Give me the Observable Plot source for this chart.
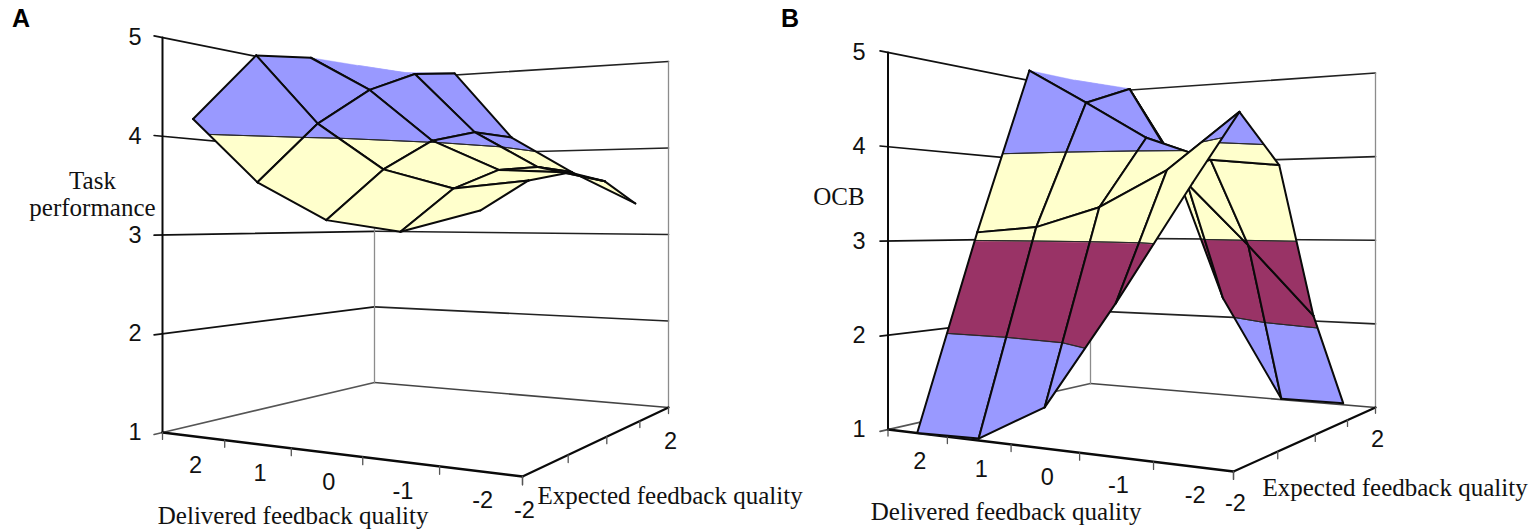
<!DOCTYPE html>
<html>
<head>
<meta charset="utf-8">
<script src="https://cdn.jsdelivr.net/npm/d3@7"></script>
<script src="https://cdn.jsdelivr.net/npm/@observablehq/plot@0.6"></script>
<style>html,body{margin:0;padding:0;background:#fff}</style>
</head>
<body>
<div id="chart"></div>
<script>
// ---- values ----
const deliveredLevels = [2, 1, 0, -1, -2];
const expectedLevels = [-2, -1, 0, 1, 2];
const zTicks = [1, 2, 3, 4, 5];
const deliveredTitle = "Delivered feedback quality";
const expectedTitle = "Expected feedback quality";
// rows: delivered 2..-2, columns: expected -2..2
const taskPerformance = [
  [4.16, 4.92, 5.02, 5.05, 5.08],
  [3.52, 4.16, 4.61, 4.90, 5.02],
  [3.16, 3.67, 4.02, 4.18, 4.18],
  [3.06, 3.47, 3.69, 3.76, 3.74],
  [3.25, 3.54, 3.65, 3.59, 3.36]
];
const ocb = [
  [1.00, 3.09, 5.03, 5.03, 5.05],
  [1.02, 3.15, 4.60, 4.87, 4.17],
  [1.40, 3.36, 4.16, 3.68, 2.24],
  [2.44, 3.73, 3.89, 2.94, 1.01],
  [3.55, 4.28, 3.81, 2.15, 1.02]
];
const bandLimits = [1, 2, 3, 4, 5];
const bandColors = ["#9999ff", "#993366", "#ffffcc", "#9999ff"];

// ---- perspective camera of each panel (floor corners and z=5 height at left corner) ----
const cameraA = {L: [162, 432], B: [374, 382], R: [668, 407], F: [522, 476], top: 37};
const cameraB = {L: [887.5, 429], B: [1090, 383], R: [1375, 407], F: [1233, 471], top: 52};

function makeProjection(c) {
  const dx1 = c.B[0] - c.R[0], dx2 = c.F[0] - c.R[0], sx = c.L[0] - c.B[0] + c.R[0] - c.F[0];
  const dy1 = c.B[1] - c.R[1], dy2 = c.F[1] - c.R[1], sy = c.L[1] - c.B[1] + c.R[1] - c.F[1];
  const den = dx1 * dy2 - dx2 * dy1;
  const g = (sx * dy2 - dx2 * sy) / den, h = (dx1 * sy - sx * dy1) / den;
  const a = c.B[0] - c.L[0] + g * c.B[0], b = c.F[0] - c.L[0] + h * c.F[0];
  const d = c.B[1] - c.L[1] + g * c.B[1], e = c.F[1] - c.L[1] + h * c.F[1];
  const k = (c.L[1] - c.top) / 4;
  return (s, t, z) => {
    const w = 1 + g * s + h * t;
    return {x: (a * s + b * t + c.L[0]) / w, y: (d * s + e * t + c.L[1] - k * (z - 1)) / w};
  };
}
const sOf = (E) => (E + 2) / 4;
const tOf = (D) => (2.5 - D) / 5;

function clipAbove(poly, level, sign) {
  const out = [];
  for (let i = 0; i < poly.length; i++) {
    const p = poly[i], q = poly[(i + 1) % poly.length];
    const pin = sign * (p.z - level) >= 0, qin = sign * (q.z - level) >= 0;
    if (pin) out.push(p);
    if (pin !== qin) {
      const u = (level - p.z) / (q.z - p.z);
      out.push({s: p.s + u * (q.s - p.s), t: p.t + u * (q.t - p.t), z: level});
    }
  }
  return out;
}

function surfaceSeries(values, project, prefix) {
  const rows = [];
  let id = 0;
  const add = (pts, fill, stroke, width) => {
    const key = prefix + id++;
    for (const v of pts) {
      const p = project(v.s, v.t, v.z);
      rows.push({key, x: p.x, y: p.y, fill, stroke, width});
    }
  };
  const V = (i, j) => ({s: sOf(expectedLevels[j]), t: tOf(deliveredLevels[i]), z: values[i][j]});
  const hidden = (i, j, i2, j2) =>
    (i === 0 && i2 === 0 && j >= 2 && j2 >= 2) ||
    (j === j2 && j >= 3 && Math.min(i, i2) === 0);
  // painter's order: far corner first
  for (let j = expectedLevels.length - 2; j >= 0; j--) {
    for (let i = 0; i < deliveredLevels.length - 1; i++) {
      const quad = [V(i, j), V(i, j + 1), V(i + 1, j + 1), V(i + 1, j)];
      bandColors.forEach((color, b) => {
        let poly = quad;
        if (b > 0) poly = clipAbove(poly, bandLimits[b], 1);
        if (b < bandColors.length - 1 && poly.length) poly = clipAbove(poly, bandLimits[b + 1], -1);
        if (poly.length > 2) add(poly, color, color, 0.4);
      });
      // band boundary lines
      for (const level of bandLimits.slice(1, -1)) {
        const cross = [];
        quad.forEach((p, n) => {
          const q = quad[(n + 1) % 4];
          if ((p.z - level) * (q.z - level) < 0) {
            const u = (level - p.z) / (q.z - p.z);
            cross.push({s: p.s + u * (q.s - p.s), t: p.t + u * (q.t - p.t), z: level});
          }
        });
        for (let n = 0; n + 1 < cross.length; n += 2) add([cross[n], cross[n + 1]], "none", "#2a2a2a", 1);
      }
      // grid edges
      const ids = [[i, j], [i, j + 1], [i + 1, j + 1], [i + 1, j]];
      ids.forEach((p, n) => {
        const q = ids[(n + 1) % 4];
        if (!hidden(p[0], p[1], q[0], q[1])) add([V(p[0], p[1]), V(q[0], q[1])], "none", "#0a0a0a", 2);
      });
    }
  }
  return rows;
}

function frameSeries(project, prefix) {
  const rows = [];
  let id = 0;
  const add = (pts, stroke, width) => {
    const key = prefix + id++;
    for (const v of pts) {
      const p = project(v[0], v[1], v[2]);
      rows.push({key, x: p.x, y: p.y, fill: "none", stroke, width});
    }
  };
  for (const z of zTicks) {
    const low = z === 1;
    add([[-0.03, 0, z], [1, 0, z]], low ? "#555" : "#111", 1.7);
    add([[1, 0, z], [1, 1, z]], low ? "#444" : "#222", 1.6);
  }
  add([[1, 0, 1], [1, 0, 5]], "#8c8c8c", 1.3);
  add([[1, 1, 1], [1, 1, 5]], "#8c8c8c", 1.3);
  add([[0, 0, 1], [0, 0, 5]], "#0a0a0a", 2);
  add([[0, 0, 1], [0, 1, 1]], "#0a0a0a", 2.4);
  add([[0, 1, 1], [1, 1, 1]], "#0a0a0a", 2.2);
  const n = deliveredLevels.length;
  for (let i = 0; i <= n; i++) add([[0, i / n, 1], [0, i / n, 0.93]], "#555", 1.3);
  expectedLevels.forEach((E) => add([[sOf(E), 1, 1], [sOf(E), 1, 0.93]], "#555", 1.3));
  return rows;
}

function panelMarks(panel) {
  const project = makeProjection(panel.camera);
  const lineMark = (data) => Plot.line(data, {
    x: "x", y: "y", z: "key",
    fill: (d) => d.fill, stroke: (d) => d.stroke, strokeWidth: (d) => d.width,
    curve: "linear-closed", strokeLinejoin: "round"
  });
  const zLabels = zTicks.map((z) => ({label: String(z), ...project(0, 0, z)}));
  const dLabels = deliveredLevels.map((D) => ({label: String(D), ...project(0, tOf(D), 1)}));
  const eLabels = [-2, 2].map((E) => ({label: String(E), ...project(sOf(E), 1, 1)}));
  const sans = {x: "x", y: "y", text: "label", fontFamily: "Liberation Sans, Arial, sans-serif", fontSize: 23.5, fill: "#111"};
  const serif = {x: "x", y: "y", text: "label", fontFamily: "Liberation Serif, Times New Roman, serif", fontSize: 25, fill: "#111"};
  const front = project(0, 1, 1);
  const yTitleAnchor = project(0, 0, panel.yTitleZ);
  return [
    lineMark(frameSeries(project, panel.id + "f")),
    lineMark(surfaceSeries(panel.values, project, panel.id + "s")),
    Plot.text(zLabels, {...sans, dx: panel.zDx}),
    Plot.text(dLabels, {...sans, dx: 2.5, dy: panel.dDy}),
    Plot.text(eLabels, {...sans, dx: 2, dy: panel.eDy}),
    Plot.text(panel.yTitle.map((label, i) => ({label, x: yTitleAnchor.x, y: yTitleAnchor.y + i * 27})),
      {...serif, textAnchor: "middle", dx: panel.yTitleDx}),
    Plot.text([{label: deliveredTitle, ...front}], {...serif, textAnchor: "end", dx: panel.dTitle[0], dy: panel.dTitle[1]}),
    Plot.text([{label: expectedTitle, ...front}], {...serif, textAnchor: "start", dx: panel.eTitle[0], dy: panel.eTitle[1]}),
    Plot.text([panel.id], {frameAnchor: "top-left", dx: panel.letterDx, dy: 9, fontFamily: "Liberation Sans, Arial, sans-serif",
      fontWeight: 700, fontSize: 25, fill: "#000", lineAnchor: "top"})
  ];
}

const panels = [
  {id: "A", camera: cameraA, values: taskPerformance, yTitle: ["Task", "performance"], yTitleZ: 3.55, yTitleDx: -70,
   zDx: -27.5, dDy: 29.5, eDy: 33.5, dTitle: [-94, 39], eTitle: [15, 19], letterDx: 11.5},
  {id: "B", camera: cameraB, values: ocb, yTitle: ["OCB"], yTitleZ: 3.47, yTitleDx: -49,
   zDx: -29, dDy: 28.5, eDy: 31.5, dTitle: [-92, 40], eTitle: [29, 16], letterDx: 780.5}
];

const chart = Plot.plot({
  width: 1535,
  height: 530,
  margin: 0,
  x: {domain: [0, 1535], range: [0, 1535], axis: null},
  y: {domain: [0, 530], range: [0, 530], axis: null},
  color: {type: "identity"},
  style: {background: "#fff"},
  marks: panels.flatMap(panelMarks)
});
document.getElementById("chart").appendChild(chart);
</script>
</body>
</html>
